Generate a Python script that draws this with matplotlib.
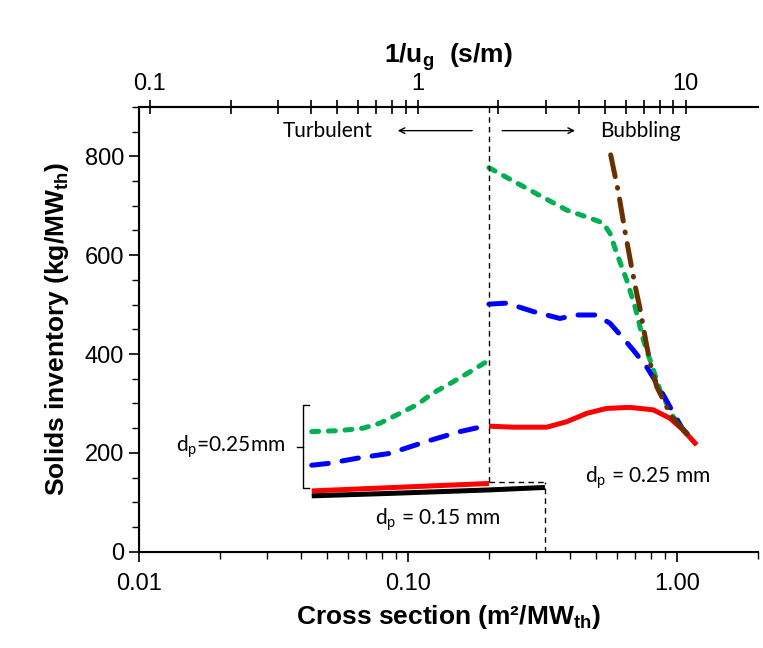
import matplotlib
matplotlib.use("Agg")
import matplotlib.pyplot as plt
from matplotlib.ticker import LogLocator, FuncFormatter, MultipleLocator, NullFormatter

plt.rcParams['font.family'] = ['Liberation Sans', 'DejaVu Sans']
plt.rcParams['mathtext.fontset'] = 'custom'
plt.rcParams['mathtext.rm'] = 'Lato'
plt.rcParams['mathtext.bf'] = 'Liberation Sans:bold'
plt.rcParams['lines.scale_dashes'] = False

# ---- data ----
green_left_x = [0.0439, 0.0559, 0.0682, 0.0787, 0.0934, 0.1077, 0.124, 0.1475, 0.175, 0.202]
green_left_y = [243, 245, 250, 260, 280, 297, 321, 344, 368, 389]
blue_left_x = [0.0439, 0.0513, 0.0645, 0.0858, 0.117, 0.156, 0.200]
blue_left_y = [175, 179, 189, 199, 223, 243, 256]
red_left_x = [0.0439, 0.200]
red_left_y = [123, 138]
black_x = [0.0439, 0.0858, 0.200, 0.323]
black_y = [113, 118, 125, 130]

green_right_x = [0.20, 0.292, 0.39, 0.475, 0.532, 0.564, 0.597, 0.650, 0.698, 0.750,
                 0.794, 0.865, 0.968, 1.151]
green_right_y = [777, 728, 691, 675, 665, 644, 604, 550, 496, 428, 388, 327, 273, 223]
blue_right_x = [0.20, 0.233, 0.292, 0.367, 0.424, 0.503, 0.564, 0.631, 0.688, 0.771,
                0.841, 0.942, 1.055, 1.167]
blue_right_y = [501, 503, 486, 472, 479, 479, 462, 432, 408, 374, 341, 293, 246, 219]
red_right_x = [0.20, 0.246, 0.328, 0.389, 0.462, 0.548, 0.669, 0.817, 0.942, 1.055, 1.184]
red_right_y = [254, 252, 252, 263, 280, 290, 292, 287, 270, 246, 216]
brown_x = [0.567, 0.605, 0.623, 0.641, 0.679, 0.702, 0.728, 0.771, 0.798, 0.841,
           0.955, 1.086, 1.167]
brown_y = [803, 729, 688, 648, 574, 533, 493, 418, 378, 334, 273, 240, 223]

fig = plt.figure(figsize=(7.63, 6.48), dpi=100)
ax = fig.add_axes([0.182, 0.1486, 0.8114, 0.6864])

lw = 3.6
dash_kw = dict(dash_capstyle='round', dash_joinstyle='round')
g = ax.plot(green_left_x, green_left_y, color='#00b050', lw=lw, **dash_kw)[0]
g.set_dashes((5, 7))
g2 = ax.plot(green_right_x, green_right_y, color='#00b050', lw=lw, **dash_kw)[0]
g2.set_dashes((5, 7))
b = ax.plot(blue_left_x, blue_left_y, color='#0000ff', lw=lw, **dash_kw)[0]
b.set_dashes((12, 10))
b2 = ax.plot(blue_right_x, blue_right_y, color='#0000ff', lw=lw, **dash_kw)[0]
b2.set_dashes((12, 10))
ax.plot(red_left_x, red_left_y, color='#ff0000', lw=lw, solid_capstyle='butt')
ax.plot(black_x, black_y, color='black', lw=lw, solid_capstyle='butt')
ax.plot(red_right_x, red_right_y, color='#ff0000', lw=lw, solid_capstyle='butt',
        solid_joinstyle='round')
br = ax.plot(brown_x, brown_y, color='#663300', lw=lw, **dash_kw)[0]
br.set_dashes((16, 8, 0.5, 8))

# dashed boundary lines
ax.plot([0.2, 0.2], [141, 900], color='black', lw=1, ls=(0, (4, 3)))
ax.plot([0.2, 0.323], [141, 141], color='black', lw=1, ls=(0, (4, 3)))
ax.plot([0.323, 0.323], [0, 141], color='black', lw=1, ls=(0, (4, 3)))

# bracket
bx, bx2, bx3 = 0.0407, 0.0429, 0.0387
ax.plot([bx2, bx, bx, bx2], [297, 297, 129, 129], color='black', lw=1)
ax.plot([bx3, bx], [212, 212], color='black', lw=1)

ann_font = 'Lato'
ax.text(0.0349, 212, r'd$_\mathrm{p}$=0.25mm', ha='right', va='center', fontsize=15, family=ann_font)
ax.text(0.129, 64, r'd$_\mathrm{p}$ = 0.15 mm', ha='center', va='center', fontsize=15, family=ann_font)
ax.text(0.78, 149, r'd$_\mathrm{p}$ = 0.25 mm', ha='center', va='center', fontsize=15, family=ann_font)
ax.text(0.0505, 852, 'Turbulent', ha='center', va='center', fontsize=15, family=ann_font)
ax.text(0.729, 852, 'Bubbling', ha='center', va='center', fontsize=15, family=ann_font)
ax.annotate('', xy=(0.0895, 852), xytext=(0.1775, 852),
            arrowprops=dict(arrowstyle='->', lw=1, color='black'))
ax.annotate('', xy=(0.428, 852), xytext=(0.2187, 852),
            arrowprops=dict(arrowstyle='->', lw=1, color='black'))

ax.set_xscale('log')
ax.set_xlim(0.01, 2.0)
ax.set_ylim(0, 900)
ax.yaxis.set_major_locator(MultipleLocator(200))
ax.yaxis.set_minor_locator(MultipleLocator(50))
ax.xaxis.set_major_locator(LogLocator(base=10))
ax.xaxis.set_minor_locator(LogLocator(base=10, subs=range(2, 10)))
ax.xaxis.set_major_formatter(FuncFormatter(lambda v, p: f'{v:.2f}'))
ax.xaxis.set_minor_formatter(NullFormatter())
ax.tick_params(axis='both', which='major', labelsize=17, length=7, width=1.2, direction='out')
ax.tick_params(axis='both', which='minor', length=5, width=1.0, direction='out')
ax.tick_params(axis='x', pad=8)
ax.spines['right'].set_visible(False)
for s in ['left', 'bottom', 'top']:
    ax.spines[s].set_linewidth(1.5)

ax.set_xlabel(r'Cross section (m²/MW$_\mathbf{th}$)', fontsize=19, fontweight='bold', labelpad=6)
ax.set_ylabel(r'Solids inventory (kg/MW$_\mathbf{th}$)', fontsize=19, fontweight='bold', labelpad=10)

# top axis 1/u_g
ax2 = ax.twiny()
ax2.set_xscale('log')
ax2.set_xlim(0.091, 18.6)
ax2.xaxis.set_major_locator(LogLocator(base=10))
ax2.xaxis.set_minor_locator(LogLocator(base=10, subs=range(2, 10)))
ax2.xaxis.set_major_formatter(FuncFormatter(lambda v, p: f'{v:g}'))
ax2.xaxis.set_minor_formatter(NullFormatter())
ax2.tick_params(axis='x', which='major', labelsize=17, length=10, width=1.2, direction='inout')
ax2.tick_params(axis='x', which='minor', length=10, width=1.2, direction='inout')
ax2.spines['right'].set_visible(False)
ax2.spines['top'].set_linewidth(1.5)
ax2.set_xlabel(r'1/u$_\mathbf{g}$  (s/m)', fontsize=19, fontweight='bold', labelpad=8)

fig.savefig('out.png', dpi=100)
